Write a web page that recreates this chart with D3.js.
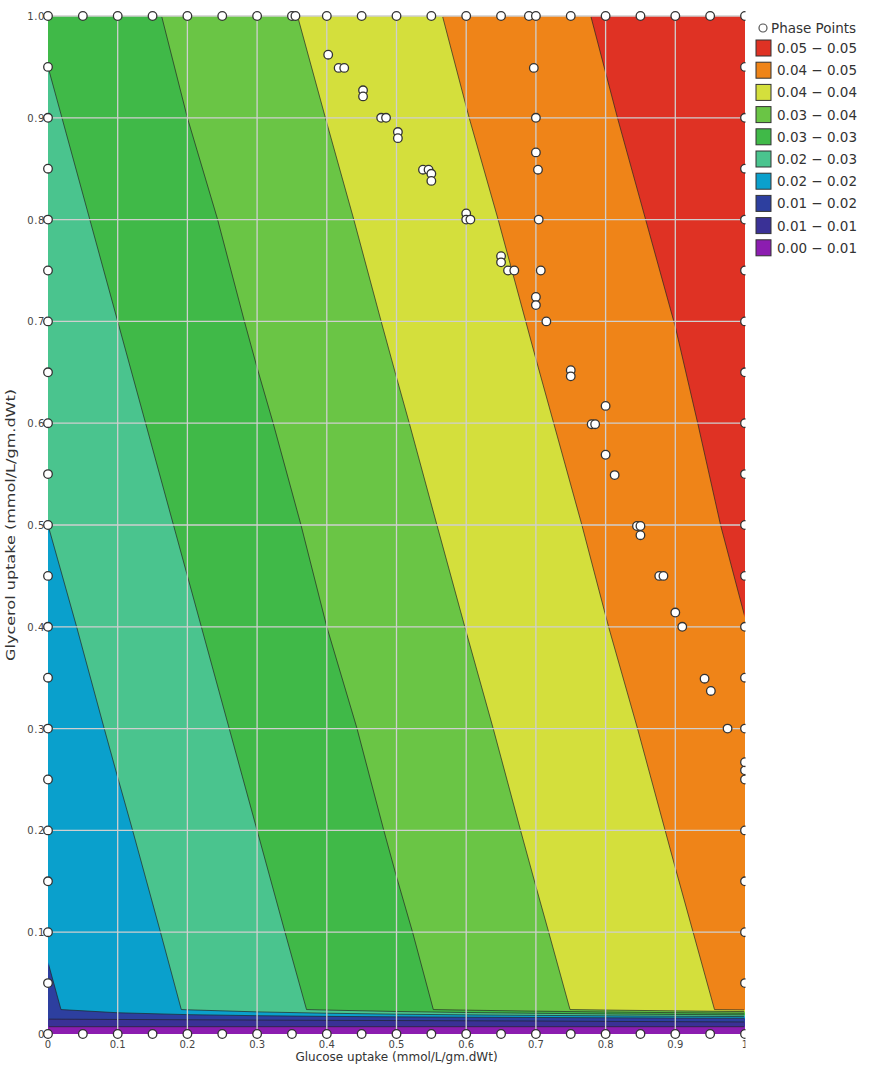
<!DOCTYPE html>
<html>
<head>
<meta charset="utf-8">
<script src="https://cdn.jsdelivr.net/npm/d3@7"></script>
<style>
  body { margin: 0; background: #fff; }
  svg { display: block; font-family: "DejaVu Sans", Verdana, sans-serif; }
</style>
</head>
<body>
<div id="chart"></div>
<script>
// grid of the contour field, columns = glucose, rows = glycerol
var gridX = [0, 0.1, 0.2, 0.3, 0.4, 0.5, 0.6, 0.7, 0.8, 0.9, 1.0];
var gridY = [0, 0.0075, 0.015, 0.024, 0.1, 0.2, 0.3, 0.4, 0.5, 0.6, 0.7, 0.8, 0.9, 1.0];
// values in contour steps (one step ~ 0.0053)
var gridZ = [
  [0, 0, 0, 0, 0, 0, 0, 0, 0, 0, 0],
  [1.05, 1.05, 1.05, 1.05, 1.05, 1.05, 1.05, 1.05, 1.05, 1.05, 1.05],
  [2.05, 2.1, 2.15, 2.2, 2.25, 2.3, 2.35, 2.4, 2.5, 2.6, 2.7],
  [2.89, 3.48, 4.05, 4.61, 5.16, 5.72, 6.25, 6.76, 7.25, 7.73, 8.21],
  [3.07, 3.65, 4.22, 4.78, 5.33, 5.88, 6.40, 6.91, 7.40, 7.88, 8.35],
  [3.30, 3.88, 4.44, 5.00, 5.55, 6.10, 6.61, 7.11, 7.59, 8.07, 8.54],
  [3.54, 4.11, 4.67, 5.22, 5.77, 6.30, 6.81, 7.30, 7.78, 8.26, 8.76],
  [3.77, 4.33, 4.89, 5.44, 6.00, 6.51, 7.01, 7.50, 7.98, 8.45, 8.98],
  [4.00, 4.56, 5.11, 5.66, 6.20, 6.71, 7.21, 7.69, 8.16, 8.63, 9.20],
  [4.22, 4.78, 5.33, 5.88, 6.40, 6.91, 7.40, 7.88, 8.35, 8.82, 9.38],
  [4.44, 5.00, 5.55, 6.10, 6.61, 7.11, 7.59, 8.07, 8.54, 9.01, 9.55],
  [4.67, 5.22, 5.77, 6.30, 6.81, 7.30, 7.78, 8.26, 8.73, 9.20, 9.70],
  [4.89, 5.44, 6.00, 6.51, 7.01, 7.50, 7.98, 8.45, 8.92, 9.39, 9.87],
  [5.11, 5.66, 6.20, 6.71, 7.21, 7.69, 8.16, 8.63, 9.10, 9.58, 10.05]
];
var levels = [0, 1, 2, 3, 4, 5, 6, 7, 8, 9];
var levelColors = ["#8c1db0", "#3a3196", "#2d3f9f", "#0aa0cc", "#4ac48e",
                   "#40b948", "#6ac545", "#d4df3c", "#ef8418", "#df3224"];
var legendLabels = ["0.05 \u2212 0.05", "0.04 \u2212 0.05", "0.04 \u2212 0.04", "0.03 \u2212 0.04",
                    "0.03 \u2212 0.03", "0.02 \u2212 0.03", "0.02 \u2212 0.02", "0.01 \u2212 0.02",
                    "0.01 \u2212 0.01", "0.00 \u2212 0.01"];

var xTicks = [0, 0.1, 0.2, 0.3, 0.4, 0.5, 0.6, 0.7, 0.8, 0.9, 1];
var xTickLabels = ["0", "0.1", "0.2", "0.3", "0.4", "0.5", "0.6", "0.7", "0.8", "0.9", "1"];
var yTicks = [0, 0.1, 0.2, 0.3, 0.4, 0.5, 0.6, 0.7, 0.8, 0.9, 1];
var yTickLabels = ["0", "0.1", "0.2", "0.3", "0.4", "0.5", "0.6", "0.7", "0.8", "0.9", "1.0"];

// phase points
var topX = [0, 0.05, 0.1, 0.15, 0.2, 0.25, 0.3, 0.35, 0.355, 0.4, 0.45, 0.5, 0.55, 0.6, 0.65, 0.69, 0.7,
            0.75, 0.8, 0.85, 0.9, 0.95, 1.0];
var bottomX = [0, 0.05, 0.1, 0.15, 0.2, 0.25, 0.3, 0.35, 0.4, 0.45, 0.5, 0.55, 0.6, 0.65, 0.7,
               0.75, 0.8, 0.85, 0.9, 0.95, 1.0];
var leftY = [0.05, 0.1, 0.15, 0.2, 0.25, 0.3, 0.35, 0.4, 0.45, 0.5, 0.55, 0.6, 0.65, 0.7, 0.75,
             0.8, 0.85, 0.9, 0.95];
var rightY = [0.05, 0.1, 0.15, 0.2, 0.25, 0.259, 0.267, 0.3, 0.35, 0.4, 0.45, 0.5, 0.55, 0.6, 0.65,
              0.7, 0.75, 0.8, 0.85, 0.9, 0.95];
var innerX = [0.402, 0.417, 0.425, 0.452, 0.452, 0.478, 0.485, 0.502, 0.502, 0.538, 0.546, 0.55, 0.55,
              0.6, 0.6, 0.606, 0.697, 0.7, 0.7, 0.703, 0.704, 0.65, 0.65, 0.66, 0.669, 0.707, 0.7, 0.7,
              0.715, 0.75, 0.75, 0.8, 0.78, 0.785, 0.8, 0.813, 0.845, 0.85, 0.85, 0.877, 0.883, 0.9,
              0.91, 0.942, 0.951, 0.975];
var innerY = [0.962, 0.949, 0.949, 0.927, 0.921, 0.9, 0.9, 0.886, 0.88, 0.849, 0.849, 0.845, 0.838,
              0.806, 0.8, 0.8, 0.949, 0.9, 0.866, 0.849, 0.8, 0.764, 0.758, 0.75, 0.75, 0.75, 0.724, 0.716,
              0.7, 0.652, 0.646, 0.617, 0.599, 0.599, 0.569, 0.549, 0.499, 0.499, 0.49, 0.45, 0.45, 0.414,
              0.4, 0.349, 0.337, 0.3];

var W = 874, H = 1065;
var plotL = 48, plotR = 745, plotT = 16, plotB = 1034;

var x = d3.scaleLinear().domain([0, 1]).range([plotL, plotR]);
var y = d3.scaleLinear().domain([0, 1]).range([plotB, plotT]);

var svg = d3.select("#chart").append("svg")
  .attr("width", W)
  .attr("height", H);

// contours, grid index space -> data space -> pixels
var nx = gridX.length, ny = gridY.length;
var colToX = d3.scaleLinear().domain(d3.range(nx)).range(gridX);
var rowToY = d3.scaleLinear().domain(d3.range(ny)).range(gridY);
var values = [];
gridZ.forEach(function(row) { row.forEach(function(v) { values.push(v); }); });

var contours = d3.contours().size([nx, ny]).thresholds(levels)(values);

var proj = d3.geoTransform({
  point: function(px, py) {
    var i = Math.max(0, Math.min(nx - 1, px - 0.5));
    var j = Math.max(0, Math.min(ny - 1, py - 0.5));
    this.stream.point(x(colToX(i)), y(rowToY(j)));
  }
});
var path = d3.geoPath(proj);

svg.append("g")
  .selectAll("path")
  .data(contours)
  .enter().append("path")
  .attr("d", path)
  .attr("fill", function(d, i) { return levelColors[i]; })
  .attr("stroke", "none");

svg.append("clipPath").attr("id", "inner")
  .append("rect")
  .attr("x", plotL + 1).attr("y", plotT + 1)
  .attr("width", plotR - plotL - 2).attr("height", plotB - plotT - 2);

svg.append("g")
  .attr("clip-path", "url(#inner)")
  .selectAll("path")
  .data(contours.slice(1))
  .enter().append("path")
  .attr("d", path)
  .attr("fill", "none")
  .attr("stroke", "#222")
  .attr("stroke-opacity", 0.85)
  .attr("stroke-width", 0.8);

// grid lines
var grid = svg.append("g").attr("stroke", "#cfcfcf").attr("stroke-width", 1.3);
grid.selectAll("line.v")
  .data(xTicks.slice(1, 10))
  .enter().append("line")
  .attr("x1", function(d) { return x(d); })
  .attr("x2", function(d) { return x(d); })
  .attr("y1", plotT).attr("y2", plotB);
grid.selectAll("line.h")
  .data(yTicks.slice(1))
  .enter().append("line")
  .attr("x1", plotL).attr("x2", plotR)
  .attr("y1", function(d) { return y(d); })
  .attr("y2", function(d) { return y(d); });

// tick labels
svg.append("g")
  .selectAll("text")
  .data(xTicks)
  .enter().append("text")
  .attr("x", function(d) { return x(d); })
  .attr("y", plotB + 14)
  .attr("text-anchor", "middle")
  .attr("font-size", 10)
  .attr("fill", "#444")
  .text(function(d, i) { return xTickLabels[i]; });

svg.append("g")
  .selectAll("text")
  .data(yTicks)
  .enter().append("text")
  .attr("x", plotL - 3)
  .attr("y", function(d) { return y(d) + 4; })
  .attr("text-anchor", "end")
  .attr("font-size", 10)
  .attr("letter-spacing", 0.6)
  .attr("fill", "#444")
  .text(function(d, i) { return yTickLabels[i]; });

// axis titles
svg.append("text")
  .attr("x", (plotL + plotR) / 2)
  .attr("y", 1061)
  .attr("text-anchor", "middle")
  .attr("font-size", 12)
  .attr("fill", "#333")
  .text("Glucose uptake (mmol/L/gm.dWt)");

svg.append("text")
  .attr("transform", "translate(15," + ((plotT + plotB) / 2) + ") rotate(-90)")
  .attr("text-anchor", "middle")
  .attr("font-size", 12)
  .attr("textLength", 272)
  .attr("lengthAdjust", "spacingAndGlyphs")
  .attr("fill", "#333")
  .text("Glycerol uptake (mmol/L/gm.dWt)");

// phase points
var pts = [];
topX.forEach(function(v) { pts.push([v, 1]); });
bottomX.forEach(function(v) { pts.push([v, 0]); });
leftY.forEach(function(v) { pts.push([0, v]); });
rightY.forEach(function(v) { pts.push([1, v]); });
innerX.forEach(function(v, i) { pts.push([v, innerY[i]]); });

svg.append("g")
  .selectAll("circle")
  .data(pts)
  .enter().append("circle")
  .attr("cx", function(d) { return x(d[0]); })
  .attr("cy", function(d) { return y(d[1]); })
  .attr("r", 4.3)
  .attr("fill", "#fff")
  .attr("stroke", "#333")
  .attr("stroke-width", 1.3);

// legend panel covers the right edge
var legend = svg.append("g");
legend.append("rect")
  .attr("x", plotR + 0.5).attr("y", 0)
  .attr("width", W - plotR).attr("height", H)
  .attr("fill", "#fff");

legend.append("circle")
  .attr("cx", 763).attr("cy", 28).attr("r", 4)
  .attr("fill", "#fff").attr("stroke", "#555").attr("stroke-width", 1.2);
legend.append("text")
  .attr("x", 771).attr("y", 33)
  .attr("font-size", 13.5)
  .attr("fill", "#333")
  .text("Phase Points");

var rows = legend.selectAll("g.row")
  .data(legendLabels)
  .enter().append("g")
  .attr("transform", function(d, i) { return "translate(756," + (40 + i * 22.2) + ")"; });
rows.append("rect")
  .attr("width", 15).attr("height", 16)
  .attr("fill", function(d, i) { return levelColors[9 - i]; })
  .attr("stroke", "#333").attr("stroke-width", 1);
rows.append("text")
  .attr("x", 21).attr("y", 13)
  .attr("font-size", 13.5)
  .attr("fill", "#333")
  .text(function(d) { return d; });
</script>
</body>
</html>
